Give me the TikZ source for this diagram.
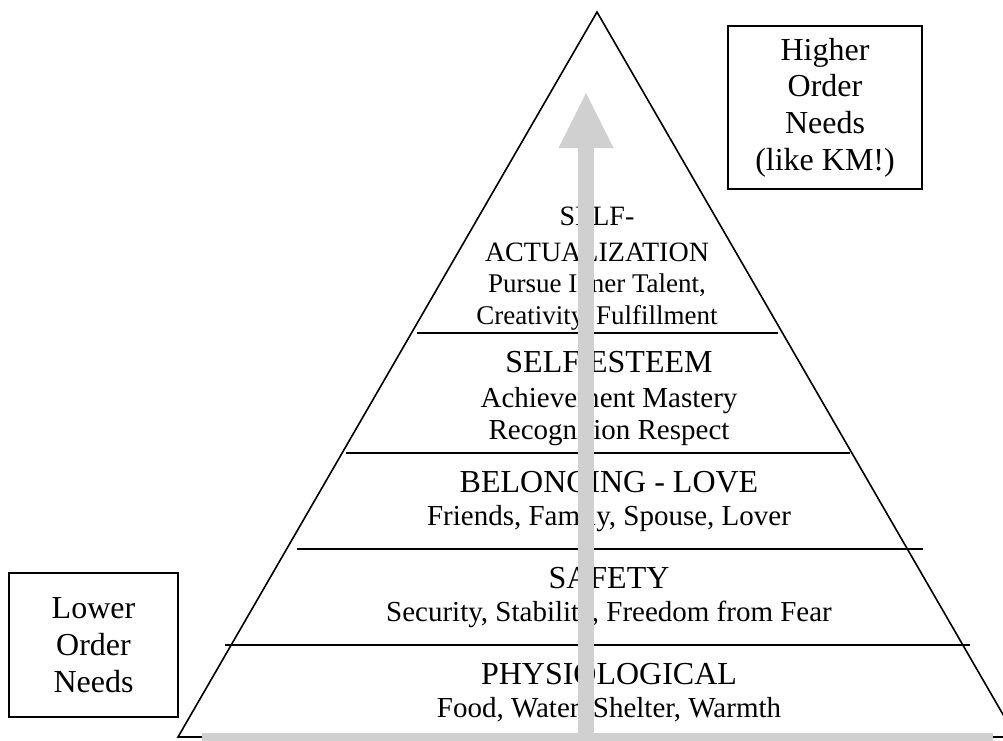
\documentclass[tikz,border=0pt]{standalone}
\usepackage{fontspec}
\setmainfont{Liberation Serif}
\usepackage{xcolor}
\usepackage{tikz}
\usetikzlibrary{arrows.meta}
\definecolor{bandgray}{RGB}{208,208,208}

\begin{document}
\begin{tikzpicture}[
    x=1pt, y=-1pt,
    edge/.style={line width=1.6pt},
    title/.style={anchor=base, inner sep=0pt, font=\fontsize{32}{36}\selectfont},
    sub/.style={anchor=base, inner sep=0pt, font=\fontsize{29}{33}\selectfont},
    toptitle/.style={anchor=base, inner sep=0pt, font=\fontsize{28}{32}\selectfont},
    topsub/.style={anchor=base, inner sep=0pt, font=\fontsize{27}{31}\selectfont},
    needbox/.style={draw, line width=1.6pt, align=center, inner sep=0pt, font=\fontsize{32}{36.7}\selectfont},
    band/.style={draw=bandgray, line width=8pt},
    uparrow/.style={draw=bandgray, line width=16pt, -{Triangle[width=55pt, length=55pt, line width=0pt, fill=bandgray]}}
]
\useasboundingbox (0,0) rectangle (1003,740);
\clip (0,0) rectangle (1003,740);

\coordinate (baseL) at (178,737);
\coordinate (apex) at (597,12);
\coordinate (baseR) at (1016,737);
\draw[edge] (baseL) -- (apex) -- (baseR) -- cycle;

\draw[edge] (225,645) -- (970,645);
\draw[edge] (297,549) -- (923,549);
\draw[edge] (346,453) -- (850,453);
\draw[edge] (417,333) -- (778,333);

\node[title] (physio) at (609,684) {PHYSIOLOGICAL};
\node[sub] (physiosub) at (609,717) {Food, Water, Shelter, Warmth};

\node[title] (safety) at (609,588) {SAFETY};
\node[sub] (safetysub) at (609,621) {Security, Stability, Freedom from Fear};

\node[title] (belong) at (609,492) {BELONGING - LOVE};
\node[sub] (belongsub) at (609,525) {Friends, Family, Spouse, Lover};

\node[title] (esteem) at (609,372) {SELF ESTEEM};
\node[sub] (esteemsubA) at (609,407) {Achievement Mastery};
\node[sub] (esteemsubB) at (609,439) {Recognition Respect};

\node[toptitle] (actualA) at (597,225) {SELF-};
\node[toptitle] (actualB) at (597,261) {ACTUALIZATION};
\node[topsub] (actualsubA) at (597,292) {Pursue Inner Talent,};
\node[topsub] (actualsubB) at (597,324) {Creativity, Fulfillment};

\node[needbox, minimum width=194pt, minimum height=163pt] (higher) at (825,107.5) {Higher\\Order\\Needs\\(like KM!)};
\node[needbox, minimum width=169pt, minimum height=144pt] (lower) at (93.5,645) {Lower\\Order\\Needs};

\coordinate (bandL) at (202,737);
\coordinate (bandR) at (993,737);
\draw[band] (bandL) -- (bandR);

\coordinate (arrowfoot) at (586,741);
\coordinate (arrowtip) at (586,93);
\draw[uparrow] (arrowfoot) -- (arrowtip);
\end{tikzpicture}
\end{document}
